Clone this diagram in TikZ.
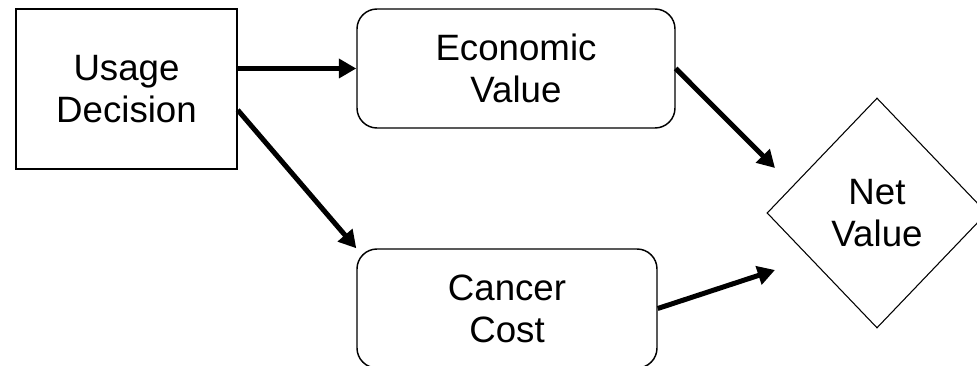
\documentclass[tikz,border=0pt]{standalone}
\usepackage{fontspec}
\setmainfont{Liberation Sans}
\usetikzlibrary{calc}
\usetikzlibrary{arrows.meta}
\usetikzlibrary{shapes.geometric}

\begin{document}
\begin{tikzpicture}[x=0.75pt,y=-0.75pt,
every node/.style = {align=center,font=\fontsize{27.5}{31.5}\selectfont},
box/.style={draw,line width=1.1pt,minimum width=165.75pt,minimum height=120pt,inner sep=0pt},
valuebox/.style={draw,line width=1.1pt,rounded corners=15pt,minimum height=89.25pt,inner sep=0pt},
netnode/.style={draw,diamond,line width=0.8pt,minimum width=165pt,minimum height=172.5pt,inner sep=0pt},
flow/.style={line width=3.75pt,-{Triangle[length=13pt,width=14pt]}}]
\useasboundingbox (0,0) rectangle (977,366);
\node[box] (usage) at (126.5,89) {Usage\\Decision};
\node[valuebox,minimum width=238.5pt] (econ) at (516,68.5) {Economic\\Value};
\node[valuebox,minimum width=225pt] (cancer) at (507,308.5) {Cancer\\Cost};
\node[netnode] (net) at (877,213) {Net\\Value};
\coordinate (netin1) at (775,168);
\coordinate (netin2) at (775,270);
\draw[flow] (usage.east |- econ.west) -- (econ.west);
\draw[flow] ($(usage.east)+(0,21)$) -- (cancer.north west);
\draw[flow] (econ.east) -- (netin1);
\draw[flow] (cancer.east) -- (netin2);
\end{tikzpicture}
\end{document}
